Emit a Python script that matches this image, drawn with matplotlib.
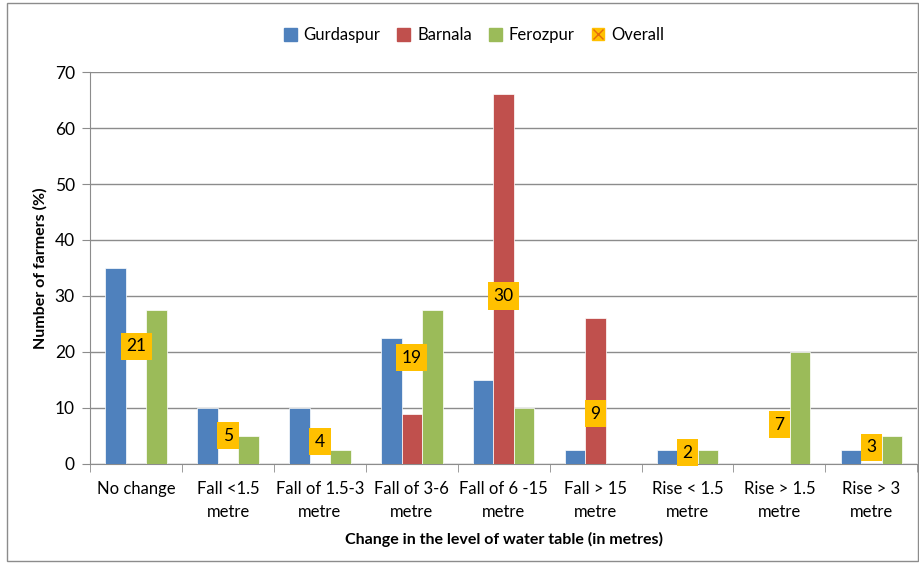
import matplotlib.pyplot as plt
import numpy as np
from matplotlib.lines import Line2D
from matplotlib.patches import Patch

plt.rcParams['font.family'] = ['Lato', 'DejaVu Sans']

categories = ['No change', 'Fall <1.5\nmetre', 'Fall of 1.5-3\nmetre', 'Fall of 3-6\nmetre',
              'Fall of 6 -15\nmetre', 'Fall > 15\nmetre', 'Rise < 1.5\nmetre',
              'Rise > 1.5\nmetre', 'Rise > 3\nmetre']
gurdaspur = [35, 10, 10, 22.5, 15, 2.5, 2.5, 0, 2.5]
barnala = [0, 0, 0, 9, 66, 26, 0, 0, 0]
ferozpur = [27.5, 5, 2.5, 27.5, 10, 0, 2.5, 20, 5]
overall = [21, 5, 4, 19, 30, 9, 2, 7, 3]

c_g = '#4F81BD'
c_b = '#C0504D'
c_f = '#9BBB59'
c_o = '#FFC000'

fig = plt.figure(figsize=(9.2, 5.63), dpi=100)
ax = fig.add_axes([0.098, 0.176, 0.899, 0.696])

x = np.arange(len(categories))
w = 0.223
ax.bar(x - w, gurdaspur, w, color=c_g, edgecolor='white', linewidth=0.5, zorder=3)
ax.bar(x, barnala, w, color=c_b, edgecolor='white', linewidth=0.5, zorder=3)
ax.bar(x + w, ferozpur, w, color=c_f, edgecolor='white', linewidth=0.5, zorder=3)

for xi, v in zip(x, overall):
    ax.text(xi, v, str(v), ha='center', va='center', fontsize=12.5, zorder=5,
            bbox=dict(boxstyle='square,pad=0.32', fc=c_o, ec='none'))

ax.set_xlim(-0.5, len(categories) - 0.5)
ax.set_ylim(0, 70)
ax.set_yticks(range(0, 71, 10))
ax.yaxis.grid(True, color='#8c8c8c', linewidth=1)
ax.set_axisbelow(True)

ax.set_xticks(x)
ax.set_xticklabels(categories, fontsize=12, linespacing=1.6)
ax.set_xticks(np.arange(-0.5, len(categories)), minor=True)
ax.tick_params(axis='x', which='major', length=0, pad=12)
ax.tick_params(axis='x', which='minor', length=6, color='#8c8c8c')
ax.tick_params(axis='y', length=6, color='#8c8c8c', labelsize=12.5, pad=5)

for s in ['top', 'right']:
    ax.spines[s].set_visible(False)
ax.spines['left'].set_color('#8c8c8c')
ax.spines['bottom'].set_color('#8c8c8c')

ax.set_ylabel('Number of farmers (%)', fontsize=11.5, fontweight='bold', labelpad=5)
ax.set_xlabel('Change in the level of water table (in metres)', fontsize=11.5,
              fontweight='bold', labelpad=8)

handles = [Patch(color=c_g), Patch(color=c_b), Patch(color=c_f),
           (Line2D([], [], marker='s', color=c_o, linestyle='none', markersize=8),
            Line2D([], [], marker='x', color='#E46C0A', linestyle='none', markersize=7))]
fig.legend(handles, ['Gurdaspur', 'Barnala', 'Ferozpur', 'Overall'], loc='center',
           bbox_to_anchor=(0.515, 0.937), ncol=4, frameon=False, fontsize=12,
           handlelength=0.8, handleheight=0.8, handletextpad=0.4, columnspacing=1.0)

fig.patches.append(plt.Rectangle((0.008, 0.004), 0.99, 0.99, transform=fig.transFigure,
                                 fill=False, edgecolor='#8c8c8c', linewidth=1))

fig.savefig('out.png', dpi=100)
